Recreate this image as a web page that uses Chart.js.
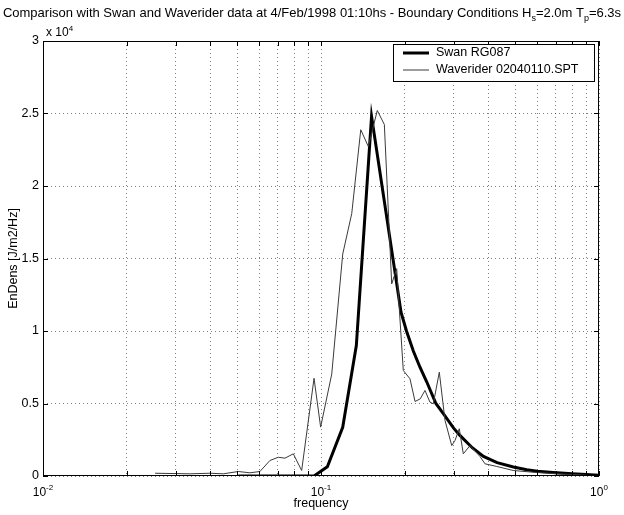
<!DOCTYPE html>
<html><head><meta charset="utf-8">
<script src="https://cdn.jsdelivr.net/npm/chart.js@4.4.0/dist/chart.umd.min.js"></script>
<style>html,body{margin:0;padding:0;background:#fff;}#wrap{width:624px;height:515px;position:relative;}</style>
</head><body><div id="wrap"><canvas id="c" width="624" height="515"></canvas></div>
<script>
const swanFreq = [0.0504, 0.0944, 0.1054, 0.1197, 0.134, 0.152, 0.194, 0.203, 0.215, 0.227, 0.24, 0.259, 0.2754, 0.3, 0.316, 0.35, 0.384, 0.43, 0.492, 0.55, 0.6, 0.685, 0.8, 0.9, 1.0];
const swanEnergy = [0, 0, 640, 3360, 9000, 24800, 11300, 10000, 8600, 7500, 6500, 5000, 4300, 3300, 2800, 1950, 1350, 920, 620, 430, 330, 240, 150, 100, 60];
const wrFreq = [0.0253, 0.0338, 0.0399, 0.0445, 0.0504, 0.0555, 0.0603, 0.0655, 0.0702, 0.0742, 0.0795, 0.0852, 0.0944, 0.0997, 0.1093, 0.1197, 0.129, 0.139, 0.148, 0.1594, 0.169, 0.1796, 0.1872, 0.1977, 0.209, 0.2179, 0.2275, 0.2366, 0.2466, 0.2535, 0.2664, 0.2793, 0.2953, 0.3034, 0.3144, 0.325, 0.3436, 0.3733, 0.389, 0.4285, 0.4915, 0.5788, 0.7042, 0.903];
const wrEnergy = [190, 150, 190, 150, 310, 220, 310, 1070, 1290, 1230, 1530, 380, 6740, 3370, 7030, 15300, 18100, 23880, 22720, 25210, 24240, 13250, 14300, 7280, 6700, 5140, 5320, 5900, 5090, 4980, 7160, 3830, 2100, 2450, 3260, 1530, 2100, 1340, 840, 660, 380, 260, 150, 60];
const xTickValues = [0.01,0.02,0.03,0.04,0.05,0.06,0.07,0.08,0.09,0.1,0.2,0.3,0.4,0.5,0.6,0.7,0.8,0.9,1];
const xMajorTicks = [0.01, 0.1, 1];
const xMajorExponents = ['-2', '-1', '0'];
const yTickValues = [0, 5000, 10000, 15000, 20000, 25000, 30000];
const seriesNames = ['Swan RG087', 'Waverider 02040110.SPT'];
const titleParts = [['Comparison with Swan and Waverider data at 4/Feb/1998 01:10hs - Boundary Conditions H','n'],['s','sub'],['=2.0m T','n'],['p','sub'],['=6.3s','n']];

const FONT = '"Liberation Sans", Arial, Helvetica, sans-serif';

const decor = {
  id: 'decor',
  afterDraw(chart) {
    const ctx = chart.ctx, a = chart.chartArea;
    const xs = chart.scales.x, ys = chart.scales.y;
    ctx.save();
    ctx.strokeStyle = '#000'; ctx.lineWidth = 1;
    ctx.strokeRect(Math.round(a.left)+0.5, Math.round(a.top)+0.5, Math.round(a.right-a.left)-1, Math.round(a.bottom-a.top)-1);
    ctx.beginPath();
    xTickValues.forEach(v => {
      const px = Math.round(xs.getPixelForValue(v)) + 0.5;
      ctx.moveTo(px, a.bottom); ctx.lineTo(px, a.bottom - 5);
      ctx.moveTo(px, a.top); ctx.lineTo(px, a.top + 5);
    });
    yTickValues.forEach(v => {
      const py = Math.round(ys.getPixelForValue(v)) + 0.5;
      ctx.moveTo(a.left, py); ctx.lineTo(a.left + 5, py);
      ctx.moveTo(a.right, py); ctx.lineTo(a.right - 5, py);
    });
    ctx.stroke();
    ctx.fillStyle = '#000';
    ctx.textBaseline = 'alphabetic';
    xMajorTicks.forEach((v, i) => {
      const px = xs.getPixelForValue(v);
      ctx.font = '12px ' + FONT;
      const w1 = ctx.measureText('10').width;
      ctx.font = '8px ' + FONT;
      const w2 = ctx.measureText(xMajorExponents[i]).width;
      const x0 = px - (w1 + w2) / 2;
      ctx.font = '12px ' + FONT;
      ctx.textAlign = 'left';
      ctx.fillText('10', x0, a.bottom + 20);
      ctx.font = '8px ' + FONT;
      ctx.fillText(xMajorExponents[i], x0 + w1, a.bottom + 14);
    });
    ctx.font = '12px ' + FONT;
    ctx.textAlign = 'left';
    ctx.fillText('x 10', a.left + 3, a.top - 5);
    const wx = ctx.measureText('x 10').width;
    ctx.font = '8px ' + FONT;
    ctx.fillText('4', a.left + 3 + wx, a.top - 10);
    let total = 0;
    const fs = p => (p[1]==='sub' ? '9px ' : '13px ') + FONT;
    titleParts.forEach(p => { ctx.font = fs(p); total += ctx.measureText(p[0]).width; });
    let tx = 312 - total / 2;
    titleParts.forEach(p => {
      ctx.font = fs(p);
      ctx.fillText(p[0], tx, p[1]==='sub' ? 21 : 17);
      tx += ctx.measureText(p[0]).width;
    });
    const lx = 393, ly = 44, lw = 201, lh = 37;
    ctx.fillStyle = '#fff';
    ctx.fillRect(lx, ly, lw, lh);
    ctx.strokeStyle = '#000'; ctx.lineWidth = 1;
    ctx.strokeRect(lx + 0.5, ly + 0.5, lw, lh);
    const ds = chart.data.datasets;
    const rows = [ly + 9, ly + 26];
    [0, 1].forEach(i => {
      ctx.strokeStyle = ds[i].borderColor; ctx.lineWidth = ds[i].borderWidth;
      ctx.beginPath(); ctx.moveTo(lx + 10, rows[i]); ctx.lineTo(lx + 36, rows[i]); ctx.stroke();
      ctx.fillStyle = '#000'; ctx.font = '12.5px ' + FONT; ctx.textAlign = 'left'; ctx.textBaseline = 'middle';
      ctx.fillText(ds[i].label, lx + 43, rows[i]);
    });
    ctx.restore();
  }
};

const swanData = swanFreq.map((f, i) => ({x: f, y: swanEnergy[i]}));
const wrData = wrFreq.map((f, i) => ({x: f, y: wrEnergy[i]}));

new Chart(document.getElementById('c'), {
  type: 'line',
  data: { datasets: [
    { label: seriesNames[0], data: swanData, borderColor: '#000', borderWidth: 3, pointRadius: 0, tension: 0, order: 1 },
    { label: seriesNames[1], data: wrData, borderColor: '#3a3a3a', borderWidth: 1, pointRadius: 0, tension: 0, order: 0 }
  ]},
  options: {
    responsive: false, animation: false, devicePixelRatio: 1,
    layout: { padding: { top: 41, right: 25, left: 0, bottom: 0 } },
    plugins: { legend: { display: false }, tooltip: { enabled: false }, title: { display: false } },
    scales: {
      x: {
        type: 'logarithmic', min: 0.01, max: 1,
        afterBuildTicks: s => { s.ticks = xTickValues.map(v => ({ value: v, major: xMajorTicks.includes(v) })); },
        afterFit: s => { s.height = 39; },
        ticks: { display: false },
        grid: { drawTicks: false, color: 'rgba(0,0,0,0.5)', lineWidth: 1 },
        border: { display: false, dash: [1, 3] },
        title: { display: true, text: 'frequency', color: '#000', font: { family: FONT, size: 12.5 }, padding: { top: 0, bottom: 4 } }
      },
      y: {
        type: 'linear', min: 0, max: 30000,
        afterBuildTicks: s => { s.ticks = yTickValues.map(v => ({ value: v })); },
        afterFit: s => { s.width = 43; },
        ticks: { color: '#000', font: { family: FONT, size: 12.5 }, padding: 4, callback: v => String(v / 10000) },
        grid: { drawTicks: false, color: 'rgba(0,0,0,0.5)', lineWidth: 1 },
        border: { display: false, dash: [1, 3] },
        title: { display: true, text: 'EnDens [J/m2/Hz]', color: '#000', font: { family: FONT, size: 12.5 }, padding: { top: 6, bottom: 0 } }
      }
    }
  },
  plugins: [decor]
});
</script></body></html>
